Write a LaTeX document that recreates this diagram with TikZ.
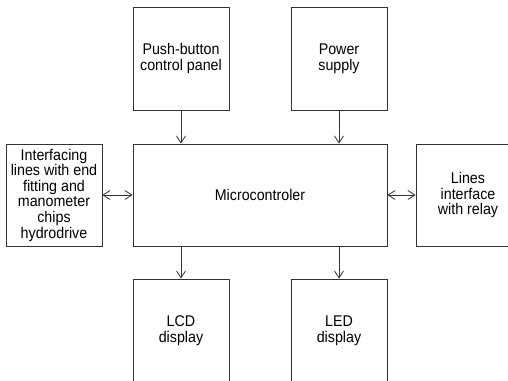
\documentclass[tikz,border=0pt]{standalone}
\usepackage{fontspec}
\newfontfamily\cadfont{Liberation Sans}[FakeStretch=0.92]
\usetikzlibrary{arrows.meta}

\begin{document}
\begin{tikzpicture}[x=1pt,y=-1pt,line width=0.8pt,draw=black!80,
  >={Straight Barb[length=7pt,width=9pt]},
  blk/.style={draw=black!80,inner sep=0pt,align=center,
    minimum width=96pt,minimum height=103pt,
    font=\cadfont\fontsize{15.5}{15.6}\selectfont}]
\useasboundingbox (0,0) rectangle (508,380);
% ---------- upper row ----------
\node[blk] (push)  at (181,58.5) {Push-button\\control panel};
\node[blk] (power) at (339,58.5) {Power\\supply};
% ---------- middle row ----------
\node[blk,minimum width=254pt,minimum height=102pt] (mcu) at (260,195) {Microcontroler};
\node[blk,minimum height=102pt] (iface) at (54,195)
  {Interfacing\\lines with end\\fitting and\\manometer\\chips\\hydrodrive};
\node[blk,minimum width=104pt,minimum height=102pt] (relay) at (468,195)
  {Lines\\interface\\with relay};
% ---------- lower row (cut by the page edge) ----------
\node[blk] (lcd) at (181,330.5) {LCD\\display};
\node[blk] (led) at (339,330.5) {LED\\display};
% ---------- connectors ----------
\draw[->] (push.south) -- (push.south |- mcu.north);
\draw[->] (power.south) -- (power.south |- mcu.north);
\draw[->] (mcu.south -| lcd.north) -- (lcd.north);
\draw[->] (mcu.south -| led.north) -- (led.north);
\draw[<->] (iface.east) -- (iface.east -| mcu.west);
\draw[<->] (mcu.east) -- (mcu.east -| relay.west);
\end{tikzpicture}
\end{document}
